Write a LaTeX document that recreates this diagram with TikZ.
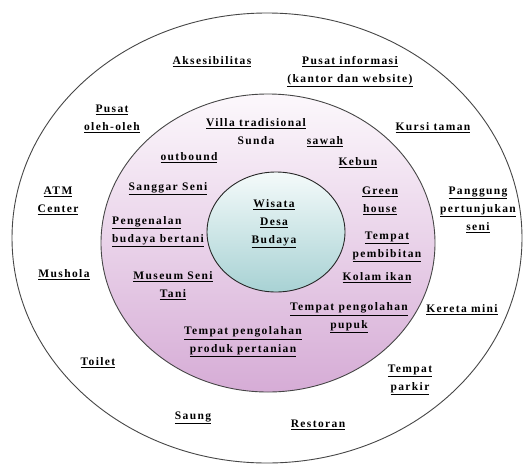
\documentclass[tikz,border=0pt]{standalone}
\usepackage{fontspec}
\setmainfont{Liberation Serif}[LetterSpace=12]
\newcommand\ulx[1]{\underline{#1}}
\definecolor{midpink}{RGB}{214,172,214}
\definecolor{midtop}{RGB}{252,248,252}
\definecolor{innerteal}{RGB}{168,210,212}
\definecolor{innertop}{RGB}{244,250,250}
\definecolor{rimgray}{RGB}{70,70,70}
\begin{document}
\begin{tikzpicture}[x=1pt,y=-1pt,
  lbl/.style={font=\fontsize{11.5}{18}\selectfont\bfseries, align=center, inner sep=0pt, text=black},
  lbll/.style={lbl, align=left},
  ring/.style={draw=rimgray, line width=0.9pt}]
\useasboundingbox (0,0) rectangle (532,466);
\fill[white] (0,0) rectangle (532,466);
% rings
\draw[ring, fill=white] (267,238) ellipse [x radius=255, y radius=225];
\shade[top color=midtop, bottom color=midpink, shading=axis] (268,243) ellipse [x radius=167, y radius=149];
\draw[ring] (268,243) ellipse [x radius=167, y radius=149];
\shade[top color=innertop, bottom color=innerteal, shading=axis] (276,232) ellipse [x radius=69, y radius=60];
\draw[ring, draw=black!85] (276,232) ellipse [x radius=69, y radius=60];
% centre
\node[lbl] (wisata) at (274,224) {\ulx{Wisata}\\\ulx{Desa}\\\ulx{Budaya}};
% middle ring
\node[lbl] (villa) at (256,132) {\ulx{Villa tradisional}\\Sunda};
\node[lbl] (sawah) at (325,142) {\ulx{sawah}};
\node[lbl] (outbound) at (189,158) {\ulx{outbound}};
\node[lbl] (kebun) at (358,163) {\ulx{Kebun}};
\node[lbl] (sanggar) at (168,189) {\ulx{Sanggar Seni}};
\node[lbl] (green) at (380,201) {\ulx{Green}\\\ulx{house}};
\node[lbll] (pengenalan) at (158,232) {\ulx{Pengenalan}\\\ulx{budaya bertani}};
\node[lbl] (pembibitan) at (387,247) {\ulx{Tempat}\\\ulx{pembibitan}};
\node[lbl] (museum) at (173,286) {\ulx{Museum Seni}\\\ulx{Tani}};
\node[lbl] (kolam) at (377,278) {\ulx{Kolam ikan}};
\node[lbl] (pupuk) at (349,318) {\ulx{Tempat pengolahan}\\\ulx{pupuk}};
\node[lbl] (produk) at (243,342) {\ulx{Tempat pengolahan}\\\ulx{produk pertanian}};
% outer ring
\node[lbl] (aksesibilitas) at (212,62) {\ulx{Aksesibilitas}};
\node[lbl] (info) at (350,72) {\ulx{Pusat informasi}\\\ulx{(kantor dan website)}};
\node[lbl] (oleh) at (112,119) {\ulx{Pusat}\\\ulx{oleh-oleh}};
\node[lbl] (kursi) at (433,128) {\ulx{Kursi taman}};
\node[lbl] (atm) at (58,201) {\ulx{ATM}\\\ulx{Center}};
\node[lbl] (panggung) at (478,210) {\ulx{Panggung}\\\ulx{pertunjukan}\\\ulx{seni}};
\node[lbl] (mushola) at (64,275) {\ulx{Mushola}};
\node[lbl] (kereta) at (462,310) {\ulx{Kereta mini}};
\node[lbl] (toilet) at (98,363) {\ulx{Toilet}};
\node[lbl] (parkir) at (410,380) {\ulx{Tempat}\\\ulx{parkir}};
\node[lbl] (saung) at (193,418) {\ulx{Saung}};
\node[lbl] (restoran) at (318,425) {\ulx{Restoran}};
\end{tikzpicture}
\end{document}
